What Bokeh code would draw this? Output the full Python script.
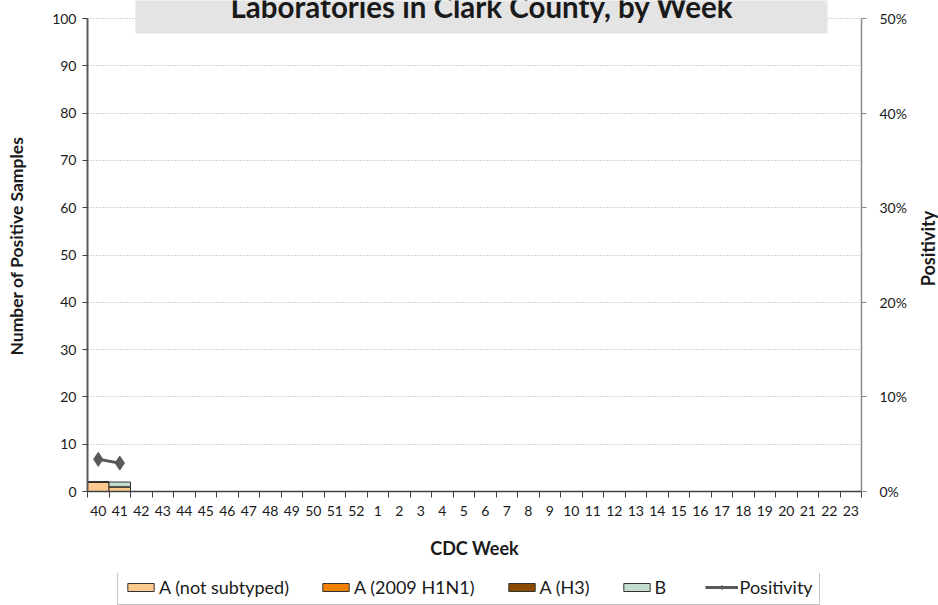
import math
from bokeh.plotting import figure
from bokeh.layouts import column, row
from bokeh.models import (Range1d, LinearAxis, FixedTicker, NumeralTickFormatter,
                          Legend, LegendItem, BoxAnnotation, Label, ColumnDataSource)
from bokeh.embed import file_html
from bokeh.resources import INLINE

# ---- data ----
weeks = ["40", "41", "42", "43", "44", "45", "46", "47", "48", "49", "50", "51", "52",
         "1", "2", "3", "4", "5", "6", "7", "8", "9", "10", "11", "12", "13", "14",
         "15", "16", "17", "18", "19", "20", "21", "22", "23"]
data_weeks = ["40", "41"]
a_not_subtyped = [2, 1]
a_2009_h1n1 = [0, 0]
a_h3 = [0, 0]
b_counts = [0, 1]
positivity = [0.034, 0.030]
count_ticks = [0, 10, 20, 30, 40, 50, 60, 70, 80, 90, 100]
pct_ticks = [0.0, 0.1, 0.2, 0.3, 0.4, 0.5]
series_names = ["A (not subtyped)", "A (2009 H1N1)", "A (H3)", "B"]
line_name = "Positivity"

title_text = "Laboratories in Clark County, by Week"
FONT = "Lato"
TXT = "#1a1a1a"
colors = ["#fdc98e", "#f08000", "#8b4a00", "#c4dccd"]
BAR_EDGE = "#333333"
LINE_COL = "#595959"

W = 938
W1, W3 = 916, 22                      # main chart width + right-title strip
H1, H2 = 573, 32                      # main chart + legend strip
FL, FR, FT, FB = 87, 861, 0, 491      # frame edges in page pixels
TOP100 = 18                           # pixel row of the 100 line
y_end = 100 * (FB - FT) / (FB - TOP100)
pct_end = 0.5 * (FB - FT) / (FB - TOP100)

xpos = [weeks.index(w) for w in data_weeks]
src = ColumnDataSource(dict(x=xpos, a_not=a_not_subtyped, h1n1=a_2009_h1n1,
                            h3=a_h3, b=b_counts, pos=positivity))
stack_cols = ["a_not", "h1n1", "h3", "b"]

p = figure(width=W1, height=H1, output_backend="svg", toolbar_location=None,
           x_range=Range1d(-0.5, len(weeks) - 0.5), y_range=Range1d(0, y_end),
           min_border_left=FL, min_border_right=W1 - FR, min_border_top=FT,
           min_border_bottom=H1 - FB)
p.outline_line_color = None
p.background_fill_color = "white"
p.border_fill_color = "white"

# x axis
xa = p.xaxis[0]
xa.ticker = FixedTicker(ticks=list(range(len(weeks))),
                        minor_ticks=[i - 0.5 for i in range(len(weeks) + 1)])
xa.major_label_overrides = {i: w for i, w in enumerate(weeks)}
xa.major_tick_line_color = None
xa.major_tick_in = 0
xa.major_tick_out = 6
xa.minor_tick_in = 0
xa.minor_tick_out = 6
xa.minor_tick_line_color = "#404040"
xa.minor_tick_line_width = 1
xa.axis_line_color = "#404040"
xa.axis_line_width = 1.5
xa.major_label_text_font = FONT
xa.major_label_text_font_size = "14px"
xa.major_label_text_color = TXT
xa.major_label_standoff = 8
xa.axis_label = "CDC Week"
xa.axis_label_text_font = FONT
xa.axis_label_text_font_style = "bold"
xa.axis_label_text_font_size = "18px"
xa.axis_label_text_color = TXT
xa.axis_label_standoff = 18

# left axis
ya = p.yaxis[0]
ya.ticker = FixedTicker(ticks=count_ticks)
ya.bounds = (0, 100)
ya.major_tick_in = 0
ya.major_tick_out = 5
ya.minor_tick_line_color = None
ya.axis_line_color = "#595959"
ya.axis_line_width = 2
ya.major_tick_line_color = "#404040"
ya.major_label_text_font = FONT
ya.major_label_text_font_size = "14px"
ya.major_label_text_color = TXT
ya.major_label_standoff = 6
ya.axis_label = "Number of Positive Samples"
ya.axis_label_text_font = FONT
ya.axis_label_text_font_style = "bold"
ya.axis_label_text_font_size = "17.5px"
ya.axis_label_text_color = TXT
ya.axis_label_standoff = 22

# right axis (its title is drawn in the strip to the right)
p.extra_y_ranges = {"pct": Range1d(0, pct_end)}
ra = LinearAxis(y_range_name="pct", ticker=FixedTicker(ticks=pct_ticks),
                formatter=NumeralTickFormatter(format="0%"), bounds=(0, 0.5))
ra.major_tick_in = 0
ra.major_tick_out = 5
ra.minor_tick_line_color = None
ra.axis_line_color = "#8c8c8c"
ra.axis_line_width = 1.5
ra.major_tick_line_color = "#8c8c8c"
ra.major_label_text_font = FONT
ra.major_label_text_font_size = "14px"
ra.major_label_text_color = TXT
ra.major_label_standoff = 13
p.add_layout(ra, "right")

# grid
p.xgrid.visible = False
p.ygrid.ticker = FixedTicker(ticks=count_ticks[1:])
p.ygrid.grid_line_color = "#a6a6a6"
p.ygrid.grid_line_dash = "1 2"
p.ygrid.grid_line_width = 1

# bars
bars = p.vbar_stack(stack_cols, x="x", width=1.0, source=src,
                    fill_color=colors, line_color=BAR_EDGE, line_width=1)

# positivity line
ln = p.line("x", "pos", source=src, y_range_name="pct", line_color=LINE_COL,
            line_width=3)
mk = p.scatter("x", "pos", source=src, y_range_name="pct", marker="diamond",
               size=14, fill_color=LINE_COL, line_color=LINE_COL)

# title box + text (inside the top strip of the frame)
px_x = (FR - FL) / len(weeks)
px_y = (FB - TOP100) / 100.0
def dx(sx):
    return (sx - FL) / px_x - 0.5
def dy(sy):
    return (FB - sy) / px_y

box = BoxAnnotation(left=dx(135), right=dx(827), bottom=dy(33), top=dy(-20),
                    fill_color="#e4e4e4", fill_alpha=1.0, line_color=None)
p.add_layout(box)
p.add_layout(Label(x=dx(481.5), y=dy(6), text=title_text, text_align="center",
                   text_baseline="alphabetic", text_font=FONT, text_font_style="bold",
                   text_font_size="29.5px", text_color=TXT))

# ---- right strip holding the secondary axis title ----
p3 = figure(width=W3, height=H1, output_backend="svg", toolbar_location=None,
            x_range=Range1d(0, 1), y_range=Range1d(0, y_end),
            min_border_left=0, min_border_right=0, min_border_top=FT,
            min_border_bottom=H1 - FB, x_axis_location=None, y_axis_location=None)
p3.outline_line_color = None
p3.grid.visible = False
p3.add_layout(Label(x=0.5, y=dy(248), text=line_name, angle=math.pi / 2,
                    text_align="center", text_baseline="middle", text_font=FONT,
                    text_font_style="bold", text_font_size="18px", text_color=TXT))

# ---- legend strip (second figure; its proxy glyphs are hidden) ----
p2 = figure(width=W, height=H2, output_backend="svg", toolbar_location=None,
            x_range=Range1d(-0.5, len(weeks) - 0.5), y_range=Range1d(0, 100),
            min_border_left=FL, min_border_right=W - FR, min_border_top=0,
            min_border_bottom=0, x_axis_location=None, y_axis_location=None)
p2.outline_line_color = None
p2.grid.visible = False
p2.extra_y_ranges = {"pct": Range1d(0, pct_end)}
sw = p2.vbar_stack(stack_cols, x="x", width=1.0, source=src,
                   fill_color=colors, line_color=BAR_EDGE, line_width=1)
l2 = p2.line("x", "pos", source=src, y_range_name="pct", line_color=LINE_COL,
             line_width=3)
m2 = p2.scatter("x", "pos", source=src, y_range_name="pct", marker="diamond",
                size=14, fill_color=LINE_COL, line_color=LINE_COL)
for r in list(sw) + [l2, m2]:
    r.visible = False

items = [LegendItem(label=n, renderers=[r]) for n, r in zip(series_names, sw)]
items.append(LegendItem(label=line_name, renderers=[l2, m2]))
legend = Legend(items=items, orientation="horizontal", location=(30, 0))
legend.border_line_color = "#8c8c8c"
legend.border_line_width = 1
legend.background_fill_color = "white"
legend.background_fill_alpha = 1.0
legend.inactive_fill_alpha = 0.0
legend.label_text_font = FONT
legend.label_text_font_size = "18px"
legend.label_text_color = TXT
legend.glyph_width = 33
legend.glyph_height = 10
legend.label_height = 12
legend.label_standoff = 2
legend.spacing = 30
legend.padding = 6
legend.margin = 0
p2.add_layout(legend)

layout = column(row(p, p3, spacing=0), p2, spacing=0)
open("out.html", "w").write(file_html(layout, INLINE))
